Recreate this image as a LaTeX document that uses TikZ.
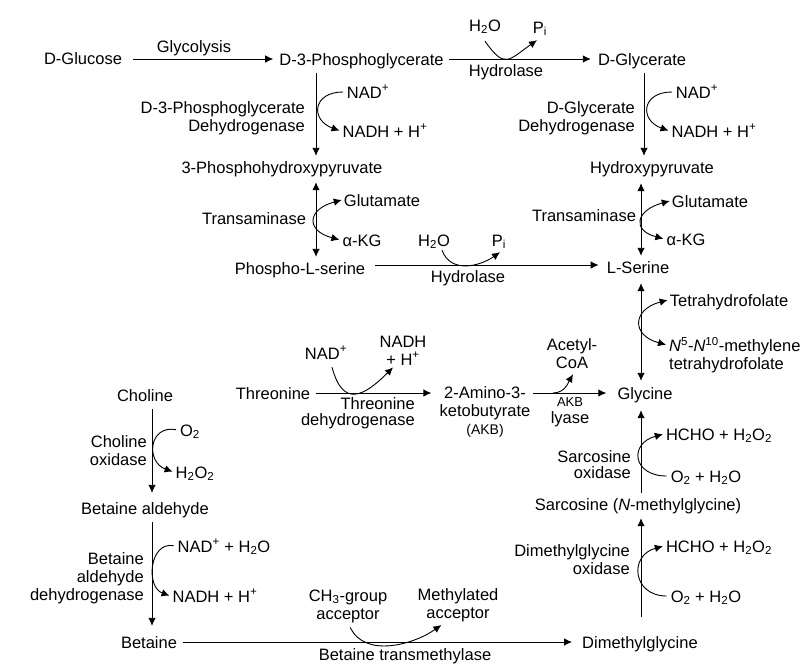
\documentclass[tikz,border=0pt]{standalone}
\usepackage{fontspec}
\setmainfont{Liberation Sans}
\usetikzlibrary{arrows.meta}
\tikzset{>={Latex[length=8pt,width=7.5pt]}}
\tikzset{
  lbl/.style={font=\fontsize{16.5}{18}\selectfont,inner sep=2pt,text height=12pt,text depth=0pt},
  multi/.style={font=\fontsize{16.5}{18}\selectfont,inner sep=2pt,align=center},
  multir/.style={multi,align=right,anchor=east},
  trunk/.style={->,line width=.9pt},
  both/.style={<->,line width=.9pt},
  bow/.style={->,line width=.9pt,shorten <=2pt,shorten >=1pt},
  bowboth/.style={<->,line width=.9pt,out=195,in=165,shorten <=0pt,shorten >=1pt},
  flow/.style={->,line width=.9pt}
}
\newcommand{\su}[1]{\textsubscript{#1}}
\newcommand{\pl}{\textsuperscript{+}}

\begin{document}
\begin{tikzpicture}[x=1pt,y=-1pt]
      \useasboundingbox (0,0) rectangle (810,670);

      % top row
      \node[lbl] (GlucoseN) at (83,58)    {D-Glucose};
      \node[lbl] (GlycoL)   at (194,46)   {Glycolysis};
      \node[lbl] (PGAN)     at (361.5,59) {D-3-Phosphoglycerate};
      \node[lbl] (GlycerN)  at (642,59)   {D-Glycerate};
      \node[lbl] (WaterA)   at (485,25)   {H\su{2}O};
      \node[lbl] (PiA)      at (540,27)   {P\su{i}};
      \node[lbl] (HydroA)   at (506,70)   {Hydrolase};

      % left column
      \node[multir] (PgdhL) at (307,118)  {D-3-Phosphoglycerate\\Dehydrogenase};
      \node[lbl] (NadA)     at (368,92)   {NAD\pl};
      \node[lbl] (NadhA)    at (385,131)  {NADH + H\pl};
      \node[lbl] (PhpN)     at (282,167)  {3-Phosphohydroxypyruvate};
      \node[lbl] (TransA)   at (254,218)  {Transaminase};
      \node[lbl] (GluA)     at (382,200)  {Glutamate};
      \node[lbl] (KgA)      at (362,240)  {α-KG};
      \node[lbl] (PserN)    at (300,268)  {Phospho-L-serine};
      \node[lbl] (WaterB)   at (434,240)  {H\su{2}O};
      \node[lbl] (PiB)      at (499,240)  {P\su{i}};
      \node[lbl] (HydroB)   at (468,276)  {Hydrolase};

      % right column
      \node[multir] (GlyDL) at (637,118)  {D-Glycerate\\Dehydrogenase};
      \node[lbl] (NadB)     at (697,92)   {NAD\pl};
      \node[lbl] (NadhB)    at (714,131)  {NADH + H\pl};
      \node[lbl] (HpyrN)    at (652,167)  {Hydroxypyruvate};
      \node[lbl] (TransB)   at (584,215)  {Transaminase};
      \node[lbl] (GluB)     at (710,201)  {Glutamate};
      \node[lbl] (KgB)      at (686,239)  {α-KG};
      \node[lbl] (SerN)     at (638,267)  {L-Serine};
      \node[lbl] (ThfL)     at (729,300)  {Tetrahydrofolate};
      \node[multi,align=left,anchor=west] (MthfL) at (667,355.5) {\textit{N}\textsuperscript{5}-\textit{N}\textsuperscript{10}-methylene\\tetrahydrofolate};
      \node[lbl] (GlyN)     at (645,393)  {Glycine};

      % threonine row
      \node[lbl] (ThrN)     at (273,393)  {Threonine};
      \node[lbl] (NadC)     at (326,353)  {NAD\pl};
      \node[multi] (NadhC)  at (403,350.5) {NADH\\+ H\pl};
      \node[multi,align=right,anchor=east] (ThrdL) at (417,413) {Threonine\\[-2pt]dehydrogenase};
      \node[multi] (AkbN)   at (485,412)  {2-Amino-3-\\ketobutyrate\\{\fontsize{14}{18}\selectfont(AKB)}};
      \node[multi] (AcoaL)  at (572,353.5) {Acetyl-\\CoA};
      \node[multi] (LyaseL) at (570,412)  {{\fontsize{13}{14}\selectfont AKB}\\[-1pt]lyase};
      \coordinate (AcoaS) at (553,393);

      % choline column
      \node[lbl] (ChoN)     at (145,395)  {Choline};
      \node[multir] (ChoxL) at (149,451)  {Choline\\oxidase};
      \node[lbl] (OxyA)     at (190,430)  {O\su{2}};
      \node[lbl] (PeroxA)   at (195,472)  {H\su{2}O\su{2}};
      \node[lbl] (BaldN)    at (145,508)  {Betaine aldehyde};
      \node[multir] (BadhL) at (146,578)  {Betaine\\aldehyde\\dehydrogenase};
      \node[lbl] (NadD)     at (224,546)  {NAD\pl{} + H\su{2}O};
      \node[lbl] (NadhD)    at (215,596)  {NADH + H\pl};
      \node[lbl] (BetN)     at (149,642)  {Betaine};

      % bottom row
      \node[multi] (ChgrL)  at (348,606)  {CH\su{3}-group\\acceptor};
      \node[multi] (MeacL)  at (458,605)  {Methylated\\acceptor};
      \node[lbl] (BhmtL)    at (405,654)  {Betaine transmethylase};
      \node[lbl] (DmgN)     at (640,642)  {Dimethylglycine};

      % sarcosine column
      \node[multir] (DmgoL) at (632,560)  {Dimethylglycine\\oxidase};
      \node[lbl] (HchoB)    at (719,546)  {HCHO + H\su{2}O\su{2}};
      \node[lbl] (OxyC)     at (706,596)  {O\su{2} + H\su{2}O};
      \node[lbl] (SarN)     at (638,504)  {Sarcosine (\textit{N}-methylglycine)};
      \node[multir] (SaroL) at (633,465)  {Sarcosine\\[-2pt]oxidase};
      \node[lbl] (HchoA)    at (719,434)  {HCHO + H\su{2}O\su{2}};
      \node[lbl] (OxyB)     at (706,476)  {O\su{2} + H\su{2}O};

      % horizontal arrows
      \draw [flow,shorten <=9pt,shorten >=4pt] (GlucoseN.east |- PGAN.west) -- (PGAN.west);
      \draw [flow,shorten <=3pt,shorten >=5pt] (PGAN.east)  -- (GlycerN.west |- PGAN.east);
      \draw [flow,shorten <=8pt,shorten >=6pt] (PserN.east |- 0,265) -- (SerN.west |- 0,265);
      \draw [flow,shorten <=4pt,shorten >=6pt] (ThrN.east)  -- (AkbN.west |- ThrN.east);
      \draw [flow,shorten >=9pt] (AkbN.east |- GlyN.west)   -- (GlyN.west);
      \draw [flow,shorten <=4pt,shorten >=8pt] (BetN.east)  -- (DmgN.west);

      % vertical arrows
      \draw [trunk,shorten <=6pt,shorten >=3pt]     (316,0 |- PGAN.south)    -- (316,0 |- PhpN.north);
      \draw [trunk,shorten <=6pt,shorten >=3pt]     (644,0 |- GlycerN.south) -- (644,0 |- HpyrN.north);
      \draw [both,shorten <=7pt,shorten >=3pt]      (316,0 |- PhpN.south)    -- (316,0 |- PserN.north);
      \draw [both,shorten <=8pt,shorten >=3pt]      (641,0 |- HpyrN.south)   -- (641,0 |- SerN.north);
      \draw [both,shorten <=8pt,shorten >=4pt]      (641,0 |- SerN.south)    -- (641,0 |- GlyN.north);
      \draw [trunk,shorten <=6pt,shorten >=7pt]     (152,0 |- ChoN.south)    -- (152,0 |- BaldN.north);
      \draw [trunk,shorten <=6pt,shorten >=8pt]     (152,0 |- BaldN.south)   -- (152,0 |- BetN.north);
      \draw [trunk,shorten <=17pt,shorten >=6pt]    (641,0 |- DmgN.north)    -- (641,0 |- SarN.south);
      \draw [trunk,shorten <=3pt,shorten >=9pt]     (641,0 |- SarN.north)    -- (641,0 |- GlyN.south);

      % side reactions
      \draw [bow] (NadA.west)  to[out=180,in=160,looseness=2.1] (NadhA.west);
      \draw [bow] (NadB.west)  to[out=180,in=160,looseness=2.1] (NadhB.west);
      \draw [bowboth,looseness=2.3] (GluA.west) to (KgA.west);
      \draw [bowboth,looseness=2.3] (GluB.west) to (KgB.west);
      \draw [bowboth,looseness=2.1] (ThfL.west) to ([yshift=10.5pt]MthfL.west);
      \draw [bow] (OxyA.west)  to[out=170,in=160,looseness=1.8] (PeroxA.west);
      \draw [bow] (NadD.west)  to[out=170,in=160,looseness=1.35] (NadhD.west);
      \draw [bow] (OxyB.west)  to[out=180,in=195,looseness=2.2] (HchoA.west);
      \draw [bow] (OxyC.west)  to[out=180,in=195,looseness=1.85] (HchoB.west);

      % dips on the horizontal arrows
      \draw [flow] ([yshift=-8pt]WaterA.south) to[out=-55,in=215,looseness=1.7] ([xshift=-3pt,yshift=-5pt]PiA.south);
      \draw [flow] ([xshift=8pt,yshift=-2pt]WaterB.south) to[out=-70,in=215,looseness=1.1] ([xshift=1pt,yshift=-4pt]PiB.south);
      \draw [flow] ([xshift=6pt,yshift=-6pt]NadC.south) to[out=-75,in=225,looseness=1.75] ([xshift=-10pt]NadhC.south);
      \draw [flow,shorten >=4pt] (AcoaS) to[out=0,in=240,looseness=1] ([xshift=3pt]AcoaL.south);
      \draw [flow,shorten <=3pt,shorten >=2pt] ([xshift=1pt]ChgrL.south) to[out=-65,in=215,looseness=1] ([xshift=-15pt]MeacL.south);
\end{tikzpicture}
\end{document}
